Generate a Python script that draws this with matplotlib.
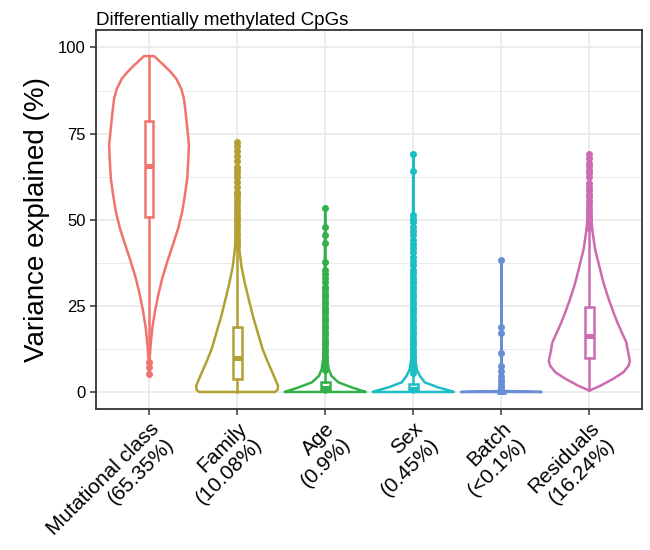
import numpy as np
import matplotlib
matplotlib.use('Agg')
import matplotlib.pyplot as plt
from matplotlib.ticker import MultipleLocator

plt.rcParams['font.family'] = ['Liberation Sans', 'DejaVu Sans']

# categories and colours
labels = ['Mutational class\n(65.35%)', 'Family\n(10.08%)', 'Age\n(0.9%)',
          'Sex\n(0.45%)', 'Batch\n(<0.1%)', 'Residuals\n(16.24%)']
colors = ['#F0736D', '#B3A032', '#33B04A', '#1DBDC4', '#6A8ED4', '#CC6BB2']

# violin outlines: levels (%) and half widths (x units)
mut_lev = [5.3, 10.0, 13.9, 18.7, 23.5, 28.3, 33.1, 37.9, 42.8, 47.6, 52.4, 57.2, 62.1,
           66.9, 71.7, 76.5, 81.3, 85.2, 88.0, 90.9, 92.9, 94.8, 97.5]
mut_w = [0.0, 0.008, 0.019, 0.038, 0.068, 0.106, 0.151, 0.208, 0.272, 0.332, 0.377, 0.408,
         0.434, 0.445, 0.453, 0.434, 0.415, 0.396, 0.366, 0.31, 0.245, 0.17, 0.057]
fam_lev = [0.0, 0.6, 1.8, 3.3, 5.7, 8.6, 12.4, 16.3, 22.0, 26.9, 31.7, 36.5, 41.3, 47.0,
           56.7, 65.0, 72.6]
fam_w = [0.43, 0.46, 0.465, 0.44, 0.40, 0.35, 0.29, 0.245, 0.18, 0.132, 0.087, 0.049,
         0.026, 0.012, 0.008, 0.004, 0.0]
age_lev = [0.0, 0.5, 1.35, 2.8, 4.7, 6.6, 10.0, 20.0, 30.0, 53.4]
age_w = [0.46, 0.40, 0.30, 0.15, 0.07, 0.04, 0.02, 0.01, 0.006, 0.0]
sex_lev = [0.0, 0.5, 1.35, 2.8, 4.7, 6.6, 10.0, 20.0, 40.0, 69.0]
sex_w = [0.46, 0.40, 0.28, 0.13, 0.075, 0.04, 0.02, 0.01, 0.005, 0.0]
bat_lev = [0.0, 0.3, 38.4]
bat_w = [0.457, 0.0, 0.0]
res_lev = [0.4, 1.8, 3.8, 5.7, 7.6, 9.0, 11.5, 14.4, 17.2, 20.1, 23.0, 26.9, 31.7, 36.5,
           41.3, 46.2, 51.0, 55.8, 62.0, 69.0]
res_w = [0.0, 0.125, 0.27, 0.385, 0.445, 0.46, 0.44, 0.42, 0.37, 0.32, 0.275, 0.22, 0.16,
         0.113, 0.066, 0.038, 0.019, 0.011, 0.005, 0.0]

# box stats: lower whisker, q1, median, q3, upper whisker
q1 = [50.7, 3.8, 0.4, 0.3, 0.0, 10.0]
med = [65.6, 10.0, 1.2, 0.9, 0.0, 16.3]
q3 = [78.6, 19.0, 2.8, 2.2, 0.02, 24.8]
wlo = [9.5, 0.0, 0.0, 0.0, 0.0, 0.5]
whi = [97.3, 42.0, 6.2, 5.0, 0.05, 47.0]

# outliers
mut_out = [8.6, 7.2, 5.3]
fam_out = [42.5, 43.5, 44.5, 45.5, 46.5, 47.5, 48.5, 49.5, 50.5, 51.5, 52.5, 53.5, 54.5, 55.5,
           56.5, 57.5, 58.0, 59.5, 61.0, 62.5, 63.5, 64.5, 65.4, 67.0, 68.5, 70.0, 71.5, 72.6]
age_out = [6.5, 7.5, 8.5, 9.5, 10.5, 11.5, 12.5, 13.5, 14.5, 15.5, 16.5, 17.5, 18.5, 19.5,
           20.5, 21.5, 22.5, 23.5, 24.5, 25.5, 26.5, 27.5, 28.5, 29.5, 30.5, 31.8, 33.0,
           34.2, 35.5, 37.7, 43.3, 45.7, 48.0, 53.4]
sex_out = [5.5, 6.5, 7.5, 8.5, 9.5, 10.5, 11.5, 12.5, 13.5, 14.5, 15.5, 16.5, 17.5, 18.5,
           19.5, 20.5, 21.5, 22.5, 23.5, 24.5, 25.5, 26.5, 27.5, 28.5, 29.5, 30.5, 31.5,
           32.5, 33.5, 34.5, 35.5, 36.8, 38.0, 39.2, 40.5, 41.8, 43.0, 44.2, 45.5, 46.8,
           48.0, 49.2, 50.3, 51.4, 64.0, 69.0]
bat_out = [0.5, 1.0, 1.8, 2.6, 3.6, 4.7, 6.2, 7.6, 11.3, 17.0, 18.9, 38.4]
res_out = [47.5, 48.5, 49.5, 50.5, 51.5, 52.5, 53.5, 54.5, 55.5, 56.5, 57.5, 58.5, 59.5,
           60.6, 62.5, 63.5, 64.5, 65.5, 66.5, 67.8, 69.0]

levels = [mut_lev, fam_lev, age_lev, sex_lev, bat_lev, res_lev]
widths = [mut_w, fam_w, age_w, sex_w, bat_w, res_w]
outliers = [mut_out, fam_out, age_out, sex_out, bat_out, res_out]

fig = plt.figure(figsize=(6.5, 5.5), dpi=100)
ax = fig.add_axes([0.148, 0.256, 0.840, 0.689])

lw = 1.8
for i in range(6):
    pos = i + 1
    c = colors[i]
    lev = np.array(levels[i])
    w = np.array(widths[i])
    xs = np.concatenate([pos - w, (pos + w)[::-1]])
    ys = np.concatenate([lev, lev[::-1]])
    ax.fill(xs, ys, facecolor='white', edgecolor=c, lw=lw, zorder=2, joinstyle='round')

    stats = [dict(whislo=wlo[i], q1=q1[i], med=med[i], q3=q3[i], whishi=whi[i],
                  fliers=outliers[i])]
    ax.bxp(stats, positions=[pos], widths=0.1, patch_artist=True, showcaps=False,
           boxprops=dict(facecolor='white', edgecolor=c, lw=lw),
           medianprops=dict(color=c, lw=lw * 2, solid_capstyle='butt'),
           whiskerprops=dict(color=c, lw=lw),
           flierprops=dict(marker='o', markerfacecolor=c, markeredgecolor=c,
                           markersize=4, linestyle='none'),
           zorder=3, manage_ticks=False)

ax.set_xlim(0.4, 6.6)
ax.set_ylim(-5, 105)
ax.set_xticks(range(1, 7))
ax.set_xticklabels(labels, rotation=45, ha='right', va='top', rotation_mode='anchor',
                   multialignment='right', fontsize=15)
ax.yaxis.set_major_locator(MultipleLocator(25))
ax.yaxis.set_minor_locator(MultipleLocator(12.5))
ax.tick_params(axis='y', which='major', labelsize=12, length=4, width=1.1, color='#333333')
ax.tick_params(axis='y', which='minor', length=0)
ax.tick_params(axis='x', length=4, width=1.1, color='#333333', pad=3)
ax.grid(True, which='major', color='#EBEBEB', lw=1.3, zorder=0)
ax.grid(True, which='minor', axis='y', color='#EBEBEB', lw=0.7, zorder=0)
ax.set_axisbelow(True)
for s in ax.spines.values():
    s.set_color('#333333')
    s.set_linewidth(1.3)

ax.set_ylabel('Variance explained (%)', fontsize=20, labelpad=6)
ax.set_title('Differentially methylated CpGs', loc='left', fontsize=13.5, pad=4)

fig.savefig('out.png', dpi=100)
